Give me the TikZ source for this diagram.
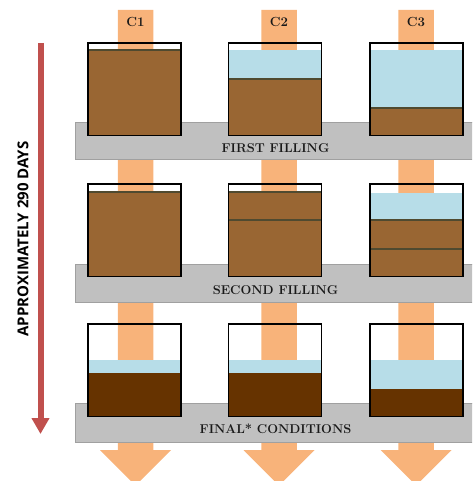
\documentclass[tikz,border=0pt]{standalone}
\usepackage{fontspec}
\newfontfamily\daysfont{Open Sans}
\usetikzlibrary{arrows.meta}
\definecolor{bandorange}{RGB}{248,179,122}
\definecolor{soil}{RGB}{153,102,51}
\definecolor{drysoil}{RGB}{102,51,0}
\definecolor{water}{RGB}{183,221,232}
\definecolor{stage}{RGB}{192,192,192}
\definecolor{stageedge}{RGB}{160,160,160}
\definecolor{timered}{RGB}{192,80,77}
\definecolor{layerline}{RGB}{79,74,48}
\tikzset{
  boxwall/.style={draw=black,line width=1.8pt},
  layer/.style={draw=layerline,line width=1.2pt},
  stageband/.style={fill=stage,draw=stageedge,line width=0.6pt},
  stagelabel/.style={font=\fontsize{12.8}{14}\selectfont\bfseries,text=black!90,inner sep=0pt},
  collabel/.style={font=\fontsize{13.2}{15}\selectfont\bfseries,text=black!90,inner sep=0pt},
  timearrow/.style={draw=timered,line width=6pt,-{Triangle[width=17pt,length=16pt]}}
}

\begin{document}
\begin{tikzpicture}[x=1pt,y=-1pt]
\clip (0,0) rectangle (472,481);

% orange columns with arrow heads
\foreach \cx in {135.5,279,416}
  \fill [bandorange] (\cx-17.75,10) -- (\cx+17.75,10) -- (\cx+17.75,450)
    -- (\cx+35.5,450) -- (\cx,485.5) -- (\cx-35.5,450) -- (\cx-17.75,450) -- cycle;
\foreach \cx/\n in {135.5/1,279/2,416/3}
  \node [collabel] (c\n) at (\cx,21.5) {C\n};

% grey stages
\draw [stageband] (75,122) rectangle (473,159);
\draw [stageband] (75,264) rectangle (473,302);
\draw [stageband] (75,403) rectangle (473,442);

% First filling
\fill [soil] (88,50) rectangle (181,136);
\draw [layer] (88,50) -- (181,50);
\fill [water] (228.5,50) rectangle (321.5,79);
\fill [soil] (228.5,79) rectangle (321.5,136);
\draw [layer] (228.5,79) -- (321.5,79);
\fill [water] (370,50) rectangle (463,108);
\fill [soil] (370,108) rectangle (463,136);
\draw [layer] (370,108) -- (463,108);

% Second filling
\fill [soil] (88,192) rectangle (181,276);
\draw [layer] (88,192) -- (181,192);
\fill [soil] (228.5,192) rectangle (321.5,276);
\draw [layer] (228.5,192) -- (321.5,192);
\draw [layer] (228.5,220) -- (321.5,220);
\fill [water] (370,193) rectangle (463,220);
\fill [soil] (370,220) rectangle (463,276);
\draw [layer] (370,220) -- (463,220);
\draw [layer] (370,249) -- (463,249);

% Final conditions
\fill [water] (88,360) rectangle (181,373);
\fill [drysoil] (88,373) rectangle (181,416);
\fill [water] (228.5,360) rectangle (321.5,373);
\fill [drysoil] (228.5,373) rectangle (321.5,416);
\fill [water] (370,360) rectangle (463,389);
\fill [drysoil] (370,389) rectangle (463,416);

% box walls
\foreach \y in {43,184,324} {
  \draw [boxwall] (88,\y) rectangle (181,\y+92.5);
  \draw [boxwall] (228.5,\y) rectangle (321.5,\y+92.5);
  \draw [boxwall] (370,\y) rectangle (463,\y+92.5);
}

\node [stagelabel] (first) at (275.5,148) {FIRST FILLING};
\node [stagelabel] (second) at (275.5,290) {SECOND FILLING};
\node [stagelabel] (final) at (275.5,429) {FINAL* CONDITIONS};

% time axis
\coordinate (start) at (40.5,43);
\coordinate (end) at (40.5,434);
\draw [timearrow] (start) -- (end);
\node [rotate=90,font=\daysfont\bfseries\fontsize{15}{17}\selectfont,inner sep=0pt] (days) at (23,239) {APPROXIMATELY 290 DAYS};
\end{tikzpicture}
\end{document}
